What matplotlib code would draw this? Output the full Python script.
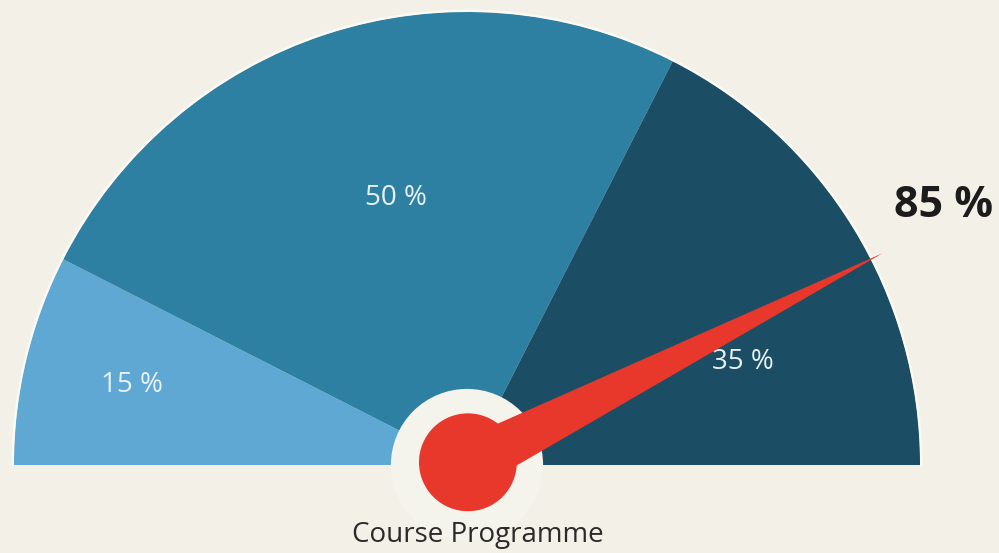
import numpy as np
import matplotlib
matplotlib.use("Agg")
import matplotlib.pyplot as plt
from matplotlib.patches import Wedge, Circle, Polygon

# ---- data ----
segment_labels = ["15 %", "50 %", "35 %"]
segment_values = [15, 50, 35]
needle_value = 85
needle_label = "85 %"
title = "Course Programme"

# ---- style ----
bg = "#f3f1e7"
seg_colors = ["#5fa8d4", "#2e80a2", "#1b4e64"]
red = "#e8372b"
font = ["Open Sans", "DejaVu Sans"]

W, H = 999, 553
R = 453.0
cx_px, cy_px = 467.0, 465.0

fig = plt.figure(figsize=(W / 100, H / 100), dpi=100, facecolor=bg)
ax = fig.add_axes([0, 0, 1, 1])
ax.set_facecolor(bg)
ax.set_xlim(-cx_px / R, (W - cx_px) / R)
ax.set_ylim(-(H - cy_px) / R, cy_px / R)
ax.set_aspect("auto")
ax.axis("off")

total = float(sum(segment_values))
start = 180.0
bounds = []
for v, c in zip(segment_values, seg_colors):
    span = 180.0 * v / total
    ax.add_patch(Wedge((0, 0), 1.0, start - span, start, facecolor=c,
                       edgecolor="none", zorder=1))
    bounds.append((start - span, start))
    start -= span

# thin light rim on the outer edge
th = np.linspace(0, np.pi, 400)
ax.plot(np.cos(th) * 1.003, np.sin(th) * 1.003, color="#fbfaf4", lw=1.5, zorder=2)

# label positions (layout: angle offset, radius)
label_layout = [(0.0, 0.76), (-3.0, 0.61), (-11.0, 0.65)]
for (a0, a1), lab, (da, rr) in zip(bounds, segment_labels, label_layout):
    a = np.deg2rad((a0 + a1) / 2 + da)
    ax.text(rr * np.cos(a), rr * np.sin(a), lab, color="#e8f1f6",
            fontsize=20, ha="center", va="center", family=font, zorder=3)

# central cut-out
ax.add_patch(Circle((0, 0), 0.168, facecolor="#f4f3ec", edgecolor="none", zorder=4))

# needle
ang = np.deg2rad(180.0 * (1 - needle_value / 100.0))
tip_r = 1.03
half_w = 0.056
perp = ang + np.pi / 2
pts = [
    (tip_r * np.cos(ang), tip_r * np.sin(ang)),
    (half_w * np.cos(perp), half_w * np.sin(perp)),
    (-half_w * np.cos(perp), -half_w * np.sin(perp)),
]
ax.add_patch(Polygon(pts, closed=True, facecolor=red, edgecolor="none", zorder=5))
ax.add_patch(Circle((0.002, 0.006), 0.108, facecolor=red, edgecolor="none", zorder=6))

# needle value text
ax.text((944 - cx_px) / R, (cy_px - 206) / R, needle_label, fontsize=31,
        fontweight="bold", color="#1c1c1c", ha="center", va="center", family=font,
        zorder=10)

# title
ax.text((478 - cx_px) / R, (cy_px - 535) / R, title, fontsize=20,
        color="#2a2a2a", ha="center", va="center", family=font, zorder=10)

fig.savefig("out.png", dpi=100, facecolor=bg)
